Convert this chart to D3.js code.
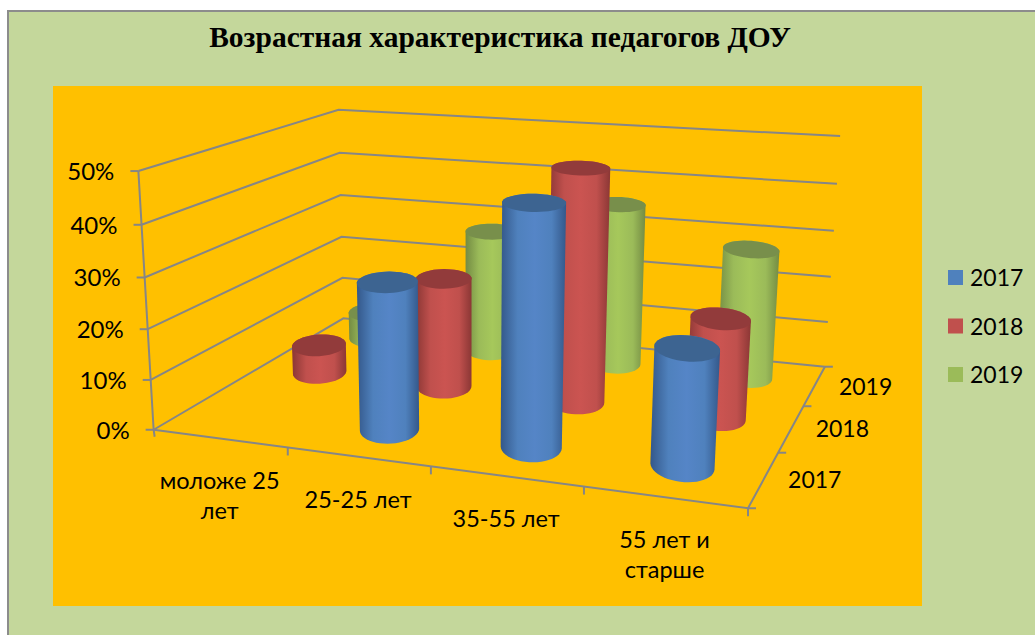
<!DOCTYPE html>
<html>
<head>
<meta charset="utf-8">
<title>Возрастная характеристика педагогов ДОУ</title>
<script src="https://cdnjs.cloudflare.com/ajax/libs/d3/7.8.5/d3.min.js"></script>
<style>
  html, body { margin: 0; padding: 0; background: #fff; }
  svg { display: block; }
  text { font-family: Lato, "Open Sans", sans-serif; fill: #000; }
</style>
</head>
<body>
<div id="chart"></div>
<script>
const chartTitle = "Возрастная характеристика педагогов ДОУ";
const categories = [["моложе 25", "лет"], ["25-25 лет"], ["35-55 лет"], ["55 лет и", "старше"]];
const years = ["2017", "2018", "2019"];
const values2017 = [0, 29, 46, 22];
const values2018 = [6, 23, 47.5, 20];
const values2019 = [6, 27, 35, 27.5];
const seriesValues = [values2017, values2018, values2019];
const valueTicks = [0, 10, 20, 30, 40, 50];

// side edge, side middle, top of the cylinder
const seriesColors = [
  { edge: "#34588a", mid: "#5585c7", top: "#3d6491", flat: "#4f81bd" },
  { edge: "#8b3735", mid: "#cb5451", top: "#923b3b", flat: "#c0504d" },
  { edge: "#738b43", mid: "#a6c85b", top: "#788f4b", flat: "#9bbb59" }
];

const width = 1035;
const height = 635;

// the 3d box in unit coordinates -> where its corners sit on the page
const boxCorners = [
  [0, 0, 0, 154, 430], [1, 0, 0, 748, 508], [0, 1, 0, 343, 318], [1, 1, 0, 825, 367],
  [0, 0, 1, 138, 171], [0, 1, 1, 339, 110], [1, 1, 1, 840, 136]
];
const camera = solveCamera(boxCorners);

function solveCamera(pts) {
  const rows = [];
  pts.forEach(([X, Y, Z, u, v]) => {
    rows.push([X, Y, Z, 1, 0, 0, 0, 0, -u * X, -u * Y, -u * Z, u]);
    rows.push([0, 0, 0, 0, X, Y, Z, 1, -v * X, -v * Y, -v * Z, v]);
  });
  const n = 11;
  const m = d3.range(n).map(i => d3.range(n + 1).map(j =>
    d3.sum(rows, r => r[i] * r[j])));
  for (let i = 0; i < n; i++) {
    let best = i;
    for (let k = i + 1; k < n; k++) if (Math.abs(m[k][i]) > Math.abs(m[best][i])) best = k;
    [m[i], m[best]] = [m[best], m[i]];
    for (let k = 0; k < n; k++) {
      if (k === i) continue;
      const f = m[k][i] / m[i][i];
      for (let j = i; j <= n; j++) m[k][j] -= f * m[i][j];
    }
  }
  return d3.range(n).map(i => m[i][n] / m[i][i]);
}

function project(X, Y, Z) {
  const c = camera;
  const w = c[8] * X + c[9] * Y + c[10] * Z + 1;
  return [(c[0] * X + c[1] * Y + c[2] * Z + c[3]) / w, (c[4] * X + c[5] * Y + c[6] * Z + c[7]) / w];
}

const xScale = d3.scaleBand().domain(d3.range(categories.length)).range([0, 1]);
const depthScale = d3.scaleBand().domain(d3.range(years.length)).range([0, 1]);
const zScale = d3.scaleLinear().domain([0, 50]).range([0, 1]);
const radiusX = xScale.bandwidth() * 0.205;
const radiusY = depthScale.bandwidth() * 0.28;
const ringShear = 0.14; // keeps the cylinder ends from tilting with the floor
const barShiftX = -0.006;
const barShiftY = 0.02;

const svg = d3.select("#chart").append("svg")
  .attr("width", width)
  .attr("height", height);

svg.append("rect")
  .attr("x", 8).attr("y", 11)
  .attr("width", width + 10).attr("height", height + 10)
  .attr("fill", "#c4d79b")
  .attr("stroke", "#8c8c8c")
  .attr("stroke-width", 2);

svg.append("rect")
  .attr("x", 53).attr("y", 86)
  .attr("width", 869).attr("height", 520)
  .attr("fill", "#ffc000");

svg.append("text")
  .attr("x", 500).attr("y", 47)
  .attr("text-anchor", "middle")
  .style("font-family", "'Liberation Serif', serif")
  .style("font-weight", "bold")
  .style("font-size", "29.5px")
  .text(chartTitle);

const defs = svg.append("defs");
seriesColors.forEach((c, i) => {
  const grad = defs.append("linearGradient")
    .attr("id", "side" + i)
    .attr("x1", 0).attr("x2", 1).attr("y1", 0).attr("y2", 0);
  [[0, c.edge], [0.26, c.flat], [0.52, c.mid], [0.78, c.flat], [1, c.edge]].forEach(s => {
    grad.append("stop").attr("offset", s[0]).attr("stop-color", s[1]);
  });
});

const line = d3.line();
const axisColor = "#868686";

const frame = svg.append("g")
  .attr("fill", "none")
  .attr("stroke", axisColor)
  .attr("stroke-width", 2);

// wall grid lines
valueTicks.forEach(t => {
  const z = zScale(t);
  frame.append("path").attr("d", line([project(0, 0, z), project(0, 1, z), project(1, 1, z)]));
  const p = project(0, 0, z);
  frame.append("path").attr("d", line([[p[0] - 8, p[1]], p]));
});

// value axis, floor edges and their ticks
frame.append("path").attr("d", line([project(0, 0, 1), project(0, 0, 0), [project(0, 0, 0)[0] + 1, project(0, 0, 0)[1] + 7]]));
frame.append("path").attr("d", line([project(0, 0, 0), project(1, 0, 0), project(1, 1, 0)]));
d3.range(1, categories.length + 1).forEach(i => {
  const p = project(i * xScale.step(), 0, 0);
  frame.append("path").attr("d", line([p, [p[0], p[1] + 8]]));
});
d3.range(0, years.length + 1).forEach(i => {
  const p = project(1, i * depthScale.step(), 0);
  frame.append("path").attr("d", line([p, [p[0] + 8, p[1]]]));
});

svg.append("g").selectAll("text")
  .data(valueTicks)
  .enter()
  .append("text")
  .attr("x", d => project(0, 0, zScale(d))[0] - 24)
  .attr("y", d => project(0, 0, zScale(d))[1] + 9)
  .attr("text-anchor", "end")
  .style("font-size", "24px")
  .text(d => d + "%");

function ring(cx, cy, z) {
  return d3.range(48).map(i => {
    const a = i / 48 * 2 * Math.PI;
    const dy = radiusY * Math.sin(a);
    return project(cx + radiusX * Math.cos(a) - ringShear * dy, cy + dy, z);
  });
}

// back row first so the front cylinders cover it
const bars = svg.append("g");
d3.range(years.length - 1, -1, -1).forEach(s => {
  categories.forEach((cat, i) => {
    const value = seriesValues[s][i];
    if (!value) return;
    const cx = xScale(i) + xScale.bandwidth() / 2 + barShiftX;
    const cy = depthScale(s) + depthScale.bandwidth() / 2 + barShiftY;
    const base = ring(cx, cy, 0);
    const top = ring(cx, cy, zScale(value));
    bars.append("path")
      .attr("d", "M" + d3.polygonHull(base.concat(top)).join("L") + "Z")
      .attr("fill", "url(#side" + s + ")");
    bars.append("path")
      .attr("d", "M" + top.join("L") + "Z")
      .attr("fill", seriesColors[s].top);
  });
});

categories.forEach((lines, i) => {
  const p = project(xScale(i) + xScale.bandwidth() / 2, 0, 0);
  const label = svg.append("text")
    .attr("text-anchor", "middle")
    .style("font-size", "23.5px");
  lines.forEach((t, k) => {
    label.append("tspan")
      .attr("x", p[0])
      .attr("y", p[1] + 51 + k * 30)
      .text(t);
  });
});

years.forEach((y, i) => {
  const p = project(1, depthScale(i) + depthScale.bandwidth() / 2, 0);
  svg.append("text")
    .attr("x", p[0] + 51)
    .attr("y", p[1] + 9)
    .attr("text-anchor", "middle")
    .style("font-size", "23px")
    .text(y);
});

const legendY = d3.scalePoint().domain(years).range([278, 375]);
const legend = svg.append("g").selectAll("g")
  .data(years)
  .enter()
  .append("g")
  .attr("transform", d => `translate(948,${legendY(d)})`);

legend.append("rect")
  .attr("y", -8)
  .attr("width", 15).attr("height", 15)
  .attr("fill", (d, i) => seriesColors[i].flat);

legend.append("text")
  .attr("x", 22).attr("y", 8)
  .style("font-size", "23px")
  .text(d => d);
</script>
</body>
</html>
